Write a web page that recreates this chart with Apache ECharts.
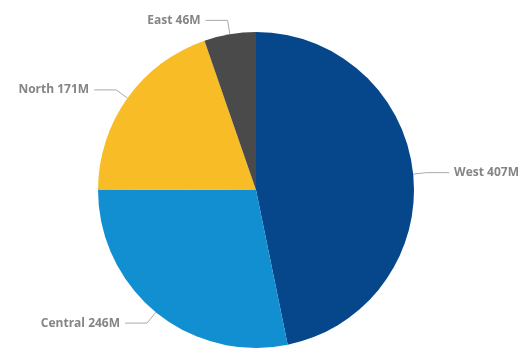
<!DOCTYPE html>
<html>
<head>
<meta charset="utf-8">
<script src="https://cdn.jsdelivr.net/npm/echarts@6/dist/echarts.min.js"></script>
<style>
  html, body { margin: 0; padding: 0; background: #fff; }
  #chart { width: 525px; height: 348px; }
</style>
</head>
<body>
<div id="chart"></div>
<script>
// regions and sales (millions)
var regions = ['West', 'Central', 'North', 'East'];
var sales = [407, 246, 171, 46];
var colors = ['#06468a', '#128fd0', '#f8bd26', '#4a4a4a'];

var seriesData = [];
for (var i in regions) {
    seriesData.push({ name: regions[i], value: sales[i], itemStyle: { color: colors[i] } });
}

var myChart = echarts.init(document.getElementById('chart'));
myChart.setOption({
    animation: false,
    series: [{
        type: 'pie',
        center: [256, 190],
        radius: 158,
        startAngle: 90,
        clockwise: true,
        data: seriesData,
        itemStyle: { borderWidth: 0 },
        label: {
            formatter: function (p) { return p.name + ' ' + p.value + 'M'; },
            color: '#858585',
            fontFamily: 'Open Sans',
            fontSize: 12,
            fontWeight: 'bold',
            overflow: 'none'
        },
        labelLine: {
            length: 14,
            length2: 22,
            lineStyle: { color: '#aaaaaa', width: 1 }
        }
    }]
});
</script>
</body>
</html>
